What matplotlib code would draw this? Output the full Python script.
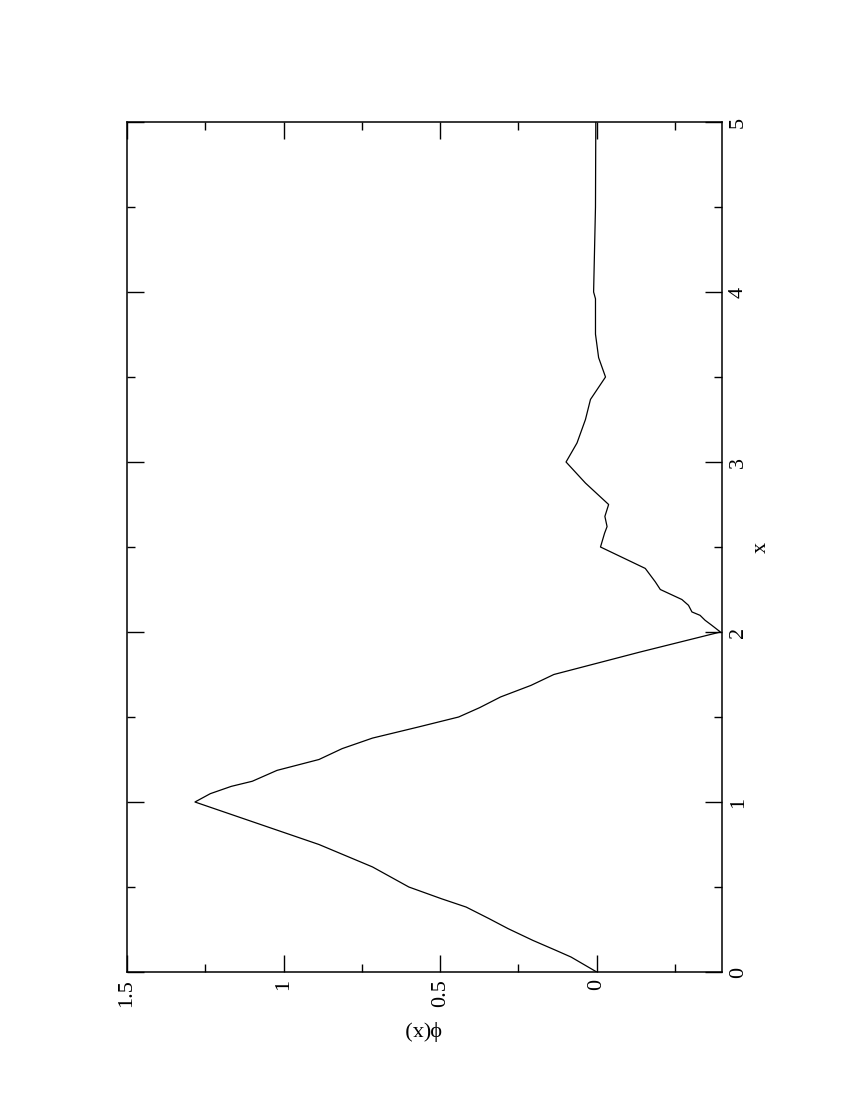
import matplotlib
matplotlib.use("Agg")
import matplotlib.pyplot as plt
from matplotlib.ticker import FixedLocator, NullFormatter

# curve (x along the page height, phi across)
x_vals = [0.0, 0.088, 0.127, 0.186, 0.255, 0.314, 0.382, 0.431, 0.5, 0.618, 0.75, 1.0,
          1.049, 1.092, 1.122, 1.186, 1.25, 1.314, 1.376, 1.441, 1.5, 1.555, 1.618,
          1.686, 1.75, 1.882, 2.0,
          2.04, 2.069, 2.098, 2.118, 2.157, 2.191, 2.25, 2.295, 2.374, 2.5, 2.581,
          2.62, 2.68, 2.75, 2.876, 3.0, 3.112, 3.25, 3.368, 3.5, 3.614, 3.752,
          3.96, 4.0, 4.5, 5.0]
phi_vals = [0.0, 0.082, 0.130, 0.204, 0.283, 0.344, 0.417, 0.496, 0.600, 0.716, 0.887, 1.283,
            1.234, 1.167, 1.100, 1.021, 0.887, 0.813, 0.716, 0.570, 0.441, 0.374, 0.307,
            0.210, 0.137, -0.138, -0.395,
            -0.367, -0.346, -0.330, -0.304, -0.293, -0.272, -0.203, -0.187, -0.155, -0.012, -0.025,
            -0.033, -0.026, -0.038, 0.036, 0.098, 0.063, 0.036, 0.020, -0.028, -0.006, 0.004,
            0.004, 0.010, 0.004, 0.003]

phi_major = [0, 0.5, 1, 1.5]
phi_labels = ["0", "0.5", "1", "1.5"]
phi_minor = [-0.25, 0.25, 0.75, 1.25]
x_major = [0, 1, 2, 3, 4, 5]
x_labels = ["0", "1", "2", "3", "4", "5"]
x_minor = [0.5, 1.5, 2.5, 3.5, 4.5]

plt.rcParams['font.family'] = ['Liberation Serif', 'DejaVu Serif']

fig = plt.figure(figsize=(8.5, 11), dpi=100)
ax = fig.add_axes([127 / 850, 1 - 972 / 1100, 595 / 850, 850 / 1100])

ax.plot(phi_vals, x_vals, color="black", lw=0.9)
ax.set_xlim(1.5, -0.4)
ax.set_ylim(0, 5)

ax.xaxis.set_major_locator(FixedLocator(phi_major))
ax.xaxis.set_minor_locator(FixedLocator(phi_minor))
ax.set_xticklabels(phi_labels, rotation=90)
ax.xaxis.set_minor_formatter(NullFormatter())

ax.yaxis.set_major_locator(FixedLocator(x_major))
ax.yaxis.set_minor_locator(FixedLocator(x_minor))
ax.yaxis.tick_right()
ax.set_yticklabels(x_labels, rotation=90, va="center")

ax.tick_params(which="both", direction="in", top=True, bottom=True, left=True, right=True,
               width=1.0, labelsize=16, pad=5)
ax.tick_params(which="major", length=12)
ax.tick_params(which="minor", length=6)
for s in ax.spines.values():
    s.set_linewidth(1.1)

fig.text(761.5 / 850, 1 - 547.7 / 1100, "x", rotation=90, fontsize=16, ha="center", va="center")
fig.text(422 / 850, 1 - 1030 / 1100, "ϕ(x)", rotation=180, fontsize=16, ha="center", va="center")

fig.savefig("out.png", dpi=100)
